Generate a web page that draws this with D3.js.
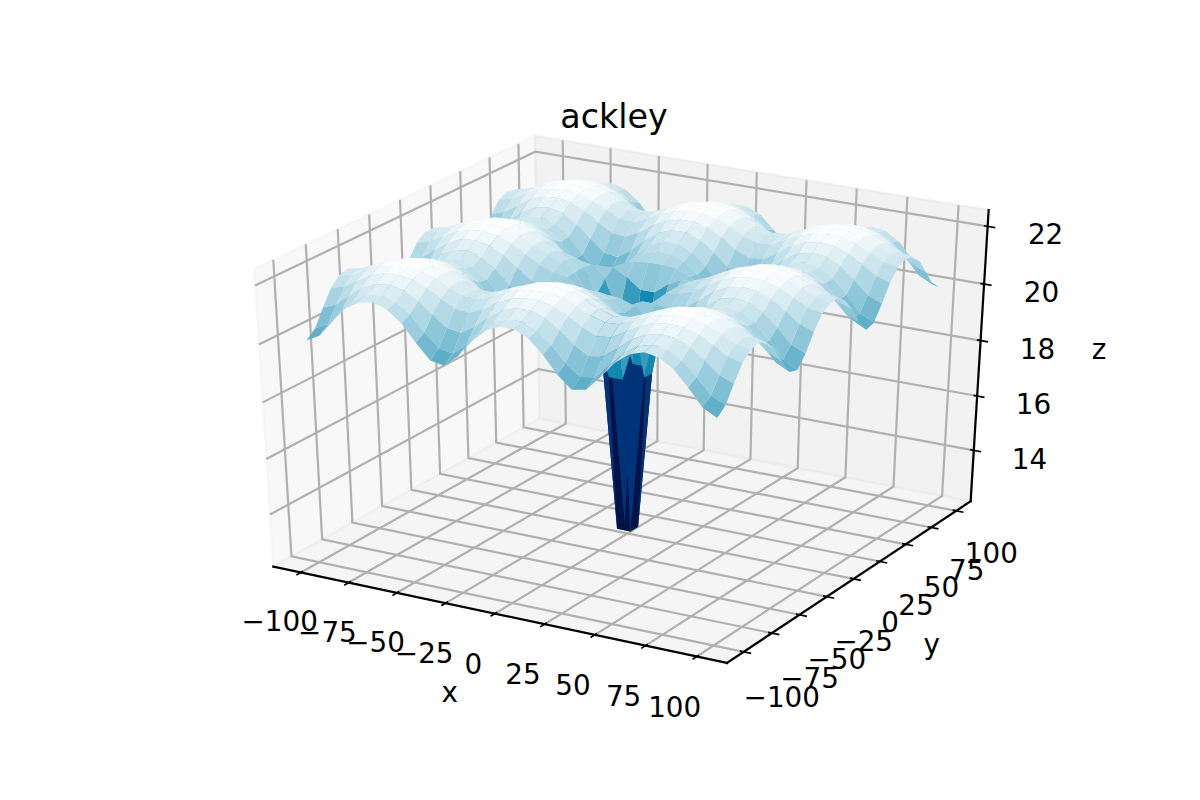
<!DOCTYPE html>
<html>
<head>
<meta charset="utf-8">
<script src="https://cdn.jsdelivr.net/npm/d3@7"></script>
<style>
  html, body { margin: 0; padding: 0; background: #fff; }
  text { font-family: "DejaVu Sans", sans-serif; fill: #000; }
</style>
</head>
<body>
<div id="chart"></div>
<script>
// tick labels and title
let title_text = "ackley";
let xy_ticks = [-100, -75, -50, -25, 0, 25, 50, 75, 100];
let z_ticks = [14, 16, 18, 20, 22];

// sample positions along x and y (same for both)
let grid_xy = [-100, -93.1, -86.21, -79.31, -72.41, -65.52, -58.62, -51.72, -44.83, -37.93,
  -31.03, -24.14, -17.24, -10.34, -3.45, 3.45, 10.34, 17.24, 24.14, 31.03,
  37.93, 44.83, 51.72, 58.62, 65.52, 72.41, 79.31, 86.21, 93.1, 100];

// surface heights, one row per |y| going from the edge to the centre
let z_edge = [20.00,20.26,20.83,21.35,21.64,21.72,21.57,21.20,20.63,20.12,20.03,20.44,21.02,21.47,21.69,21.69,21.47,21.02,20.44,20.03,20.12,20.63,21.20,21.57,21.72,21.64,21.35,20.83,20.26,20.00];
let z_r13 = [20.26,20.50,21.02,21.48,21.75,21.81,21.68,21.35,20.84,20.37,20.29,20.66,21.19,21.59,21.79,21.79,21.59,21.19,20.66,20.29,20.37,20.84,21.35,21.68,21.81,21.75,21.48,21.02,20.50,20.26];
let z_r12 = [20.83,21.02,21.41,21.77,21.97,22.02,21.92,21.66,21.27,20.92,20.85,21.14,21.54,21.85,22.01,22.01,21.85,21.54,21.14,20.85,20.92,21.27,21.66,21.92,22.02,21.97,21.77,21.41,21.02,20.83];
let z_r11 = [21.35,21.48,21.77,22.03,22.18,22.21,22.14,21.95,21.67,21.41,21.36,21.57,21.86,22.09,22.20,22.20,22.09,21.86,21.57,21.36,21.41,21.67,21.95,22.14,22.21,22.18,22.03,21.77,21.48,21.35];
let z_r10 = [21.64,21.75,21.97,22.18,22.29,22.32,22.26,22.12,21.89,21.69,21.66,21.82,22.05,22.23,22.31,22.31,22.23,22.05,21.82,21.66,21.69,21.89,22.12,22.26,22.32,22.29,22.18,21.97,21.75,21.64];
let z_r9 = [21.72,21.81,22.02,22.21,22.32,22.35,22.29,22.16,21.95,21.76,21.73,21.88,22.09,22.26,22.34,22.34,22.26,22.09,21.88,21.73,21.76,21.95,22.16,22.29,22.35,22.32,22.21,22.02,21.81,21.72];
let z_r8 = [21.57,21.68,21.92,22.14,22.26,22.29,22.23,22.08,21.84,21.62,21.58,21.75,22.00,22.19,22.28,22.28,22.19,22.00,21.75,21.58,21.62,21.84,22.08,22.23,22.29,22.26,22.14,21.92,21.68,21.57];
let z_r7 = [21.20,21.35,21.66,21.95,22.12,22.16,22.08,21.87,21.55,21.26,21.21,21.44,21.76,22.01,22.13,22.13,22.01,21.76,21.44,21.21,21.26,21.55,21.87,22.08,22.16,22.12,21.95,21.66,21.35,21.20];
let z_r6 = [20.63,20.84,21.27,21.67,21.89,21.95,21.84,21.55,21.12,20.72,20.65,20.96,21.40,21.73,21.90,21.90,21.73,21.40,20.96,20.65,20.72,21.12,21.55,21.84,21.95,21.89,21.67,21.27,20.84,20.63];
let z_r5 = [20.12,20.37,20.92,21.41,21.69,21.76,21.62,21.26,20.72,20.23,20.13,20.51,21.04,21.45,21.65,21.65,21.45,21.04,20.51,20.13,20.23,20.72,21.26,21.62,21.76,21.69,21.41,20.92,20.37,20.12];
let z_r4 = [20.03,20.29,20.85,21.36,21.66,21.73,21.58,21.21,20.65,20.13,20.02,20.39,20.91,21.29,21.46,21.46,21.29,20.91,20.39,20.02,20.13,20.65,21.21,21.58,21.73,21.66,21.36,20.85,20.29,20.03];
let z_r3 = [20.44,20.66,21.14,21.57,21.82,21.88,21.75,21.44,20.96,20.51,20.39,20.65,21.00,21.18,21.22,21.22,21.18,21.00,20.65,20.39,20.51,20.96,21.44,21.75,21.88,21.82,21.57,21.14,20.66,20.44];
let z_r2 = [21.02,21.19,21.54,21.86,22.05,22.09,22.00,21.76,21.40,21.04,20.91,21.00,21.02,20.78,20.42,20.42,20.78,21.02,21.00,20.91,21.04,21.40,21.76,22.00,22.09,22.05,21.86,21.54,21.19,21.02];
let z_r1 = [21.47,21.59,21.85,22.09,22.23,22.26,22.19,22.01,21.73,21.45,21.29,21.18,20.78,19.62,17.97,17.97,19.62,20.78,21.18,21.29,21.45,21.73,22.01,22.19,22.26,22.23,22.09,21.85,21.59,21.47];
let z_r0 = [21.69,21.79,22.01,22.20,22.31,22.34,22.28,22.13,21.90,21.65,21.46,21.22,20.42,17.97,12.30,12.30,17.97,20.42,21.22,21.46,21.65,21.90,22.13,22.28,22.34,22.31,22.20,22.01,21.79,21.69];

let z_grid = [z_edge, z_r13, z_r12, z_r11, z_r10, z_r9, z_r8, z_r7, z_r6, z_r5, z_r4, z_r3, z_r2, z_r1, z_r0,
  z_r0, z_r1, z_r2, z_r3, z_r4, z_r5, z_r6, z_r7, z_r8, z_r9, z_r10, z_r11, z_r12, z_r13, z_edge];

let svg = d3.select("#chart").append("svg")
  .attr("width", 1200)
  .attr("height", 800);

// data to the unit cube
let xScale = d3.scaleLinear().domain([-110, 110]).range([0, 1]);
let yScale = d3.scaleLinear().domain([-110, 110]).range([0, 1]);
let zScale = d3.scaleLinear().domain([12.30, 22.35]).range([0, 1]);
// projected coordinates to pixels
let sxScale = d3.scaleLinear().domain([-0.095, 0.09]).range([150, 1080]);
let syScale = d3.scaleLinear().domain([0, 0.1]).range([390, 63.8]);
// the ocean colormap
let colorScale = d3.scaleLinear()
  .domain([0, 1 / 3, 2 / 3, 1])
  .range(["#008000", "#000055", "#0080aa", "#ffffff"]);

// view: elevation 30, azimuth -60, distance 10
let elev = 30 * Math.PI / 180, azim = -60 * Math.PI / 180, dist = 10;
let n = [Math.cos(elev) * Math.cos(azim), Math.cos(elev) * Math.sin(azim), Math.sin(elev)];
let un = Math.hypot(n[1], n[0]);
let u = [-n[1] / un, n[0] / un, 0];
let v = [n[1] * u[2] - n[2] * u[1], n[2] * u[0] - n[0] * u[2], n[0] * u[1] - n[1] * u[0]];

function dot(a, b) { return a[0] * b[0] + a[1] * b[1] + a[2] * b[2]; }

// project a point of the unit cube, returns [screen x, screen y, depth]
function project(wx, wy, wz) {
  let p = [wx - 0.5, wy - 0.5, wz - 0.5];
  let w = dist - dot(n, p);
  return [sxScale(dot(u, p) / w), syScale(dot(v, p) / w), -dist / w];
}

function line3d(g, a, b) {
  let p1 = project(a[0], a[1], a[2]), p2 = project(b[0], b[1], b[2]);
  return g.append("line")
    .attr("x1", p1[0]).attr("y1", p1[1])
    .attr("x2", p2[0]).attr("y2", p2[1]);
}

// panes stick out by 1/48 on every side
let lo = -1 / 48, hi = 1 + 1 / 48;

let panes = [
  { pts: [[lo, lo, lo], [lo, hi, lo], [lo, hi, hi], [lo, lo, hi]], color: "#f2f2f2" },
  { pts: [[lo, hi, lo], [hi, hi, lo], [hi, hi, hi], [lo, hi, hi]], color: "#e6e6e6" },
  { pts: [[lo, lo, lo], [hi, lo, lo], [hi, hi, lo], [lo, hi, lo]], color: "#ececec" }
];

svg.append("g").selectAll("polygon").data(panes).enter().append("polygon")
  .attr("points", d => d.pts.map(p => project(p[0], p[1], p[2]).slice(0, 2).join(",")).join(" "))
  .attr("fill", d => d.color)
  .attr("fill-opacity", 0.5)
  .attr("stroke", d => d.color)
  .attr("stroke-opacity", 0.5)
  .attr("stroke-width", 2.2);

// grid lines
let grid = svg.append("g").attr("stroke", "#b0b0b0").attr("stroke-width", 2.2).attr("fill", "none");
xy_ticks.forEach(t => {
  let x = xScale(t), y = yScale(t);
  grid.append("polyline").attr("points", [[x, lo, lo], [x, hi, lo], [x, hi, hi]].map(p => project(p[0], p[1], p[2]).slice(0, 2).join(",")).join(" "));
  grid.append("polyline").attr("points", [[hi, y, lo], [lo, y, lo], [lo, y, hi]].map(p => project(p[0], p[1], p[2]).slice(0, 2).join(",")).join(" "));
});
z_ticks.forEach(t => {
  let z = zScale(t);
  grid.append("polyline").attr("points", [[lo, lo, z], [lo, hi, z], [hi, hi, z]].map(p => project(p[0], p[1], p[2]).slice(0, 2).join(",")).join(" "));
});

// axis lines and ticks
let axes = svg.append("g").attr("stroke", "#000").attr("stroke-linecap", "square");
line3d(axes, [lo, lo, lo], [hi, lo, lo]).attr("stroke-width", 2.2);
line3d(axes, [hi, lo, lo], [hi, hi, lo]).attr("stroke-width", 2.2);
line3d(axes, [hi, hi, lo], [hi, hi, hi]).attr("stroke-width", 2.2);

let tick_out = 0.0167, tick_in = 0.0083;
xy_ticks.forEach(t => {
  line3d(axes, [xScale(t), lo - tick_out, lo], [xScale(t), lo + tick_in, lo]).attr("stroke-width", 1.7).attr("stroke-linecap", "butt");
  line3d(axes, [hi + tick_out, yScale(t), lo], [hi - tick_in, yScale(t), lo]).attr("stroke-width", 1.7).attr("stroke-linecap", "butt");
});
z_ticks.forEach(t => {
  line3d(axes, [hi + tick_out, hi, zScale(t)], [hi - tick_in, hi, zScale(t)]).attr("stroke-width", 1.7).attr("stroke-linecap", "butt");
});

// surface facets, coloured by mean height and painted back to front
let facets = [];
for (let i = 0; i < grid_xy.length - 1; i++) {
  for (let j = 0; j < grid_xy.length - 1; j++) {
    let corners = [[i, j], [i + 1, j], [i + 1, j + 1], [i, j + 1]];
    let zs = corners.map(c => z_grid[c[1]][c[0]]);
    let pts = corners.map((c, k) => project(xScale(grid_xy[c[0]]), yScale(grid_xy[c[1]]), zScale(zs[k])));
    facets.push({ pts: pts, avg: d3.mean(zs), depth: d3.mean(pts, p => p[2]) });
  }
}
facets.sort((a, b) => b.depth - a.depth);
let tNorm = d3.scaleLinear().domain(d3.extent(facets, d => d.avg)).range([0, 1]);

svg.append("g").selectAll("polygon").data(facets).enter().append("polygon")
  .attr("points", d => d.pts.map(p => p[0] + "," + p[1]).join(" "))
  .attr("fill", d => colorScale(tNorm(d.avg)));

// labels
let font_size = 27.8;
function label3d(txt, wx, wy, wz) {
  let p = project(wx, wy, wz);
  svg.append("text")
    .attr("x", p[0]).attr("y", p[1])
    .attr("dy", "0.38em")
    .attr("text-anchor", "middle")
    .attr("font-size", font_size)
    .text(txt);
}
function fmt(t) { return t < 0 ? "\u2212" + Math.abs(t) : String(t); }

xy_ticks.forEach(t => {
  label3d(fmt(t), xScale(t), lo - 0.085, lo - 0.13);
  label3d(fmt(t), hi + 0.086, yScale(t), lo - 0.13);
});
z_ticks.forEach(t => {
  label3d(String(t), hi + 0.117, hi + 0.021, zScale(t) - 0.004);
});
label3d("x", 0.5, lo - 0.175, lo - 0.18);
label3d("y", hi + 0.181, 0.5, lo - 0.177);
label3d("z", hi + 0.184, hi + 0.174, 0.508);

svg.append("text")
  .attr("x", 614).attr("y", 116)
  .attr("dy", "0.36em")
  .attr("text-anchor", "middle")
  .attr("font-size", 33.3)
  .text(title_text);
</script>
</body>
</html>
